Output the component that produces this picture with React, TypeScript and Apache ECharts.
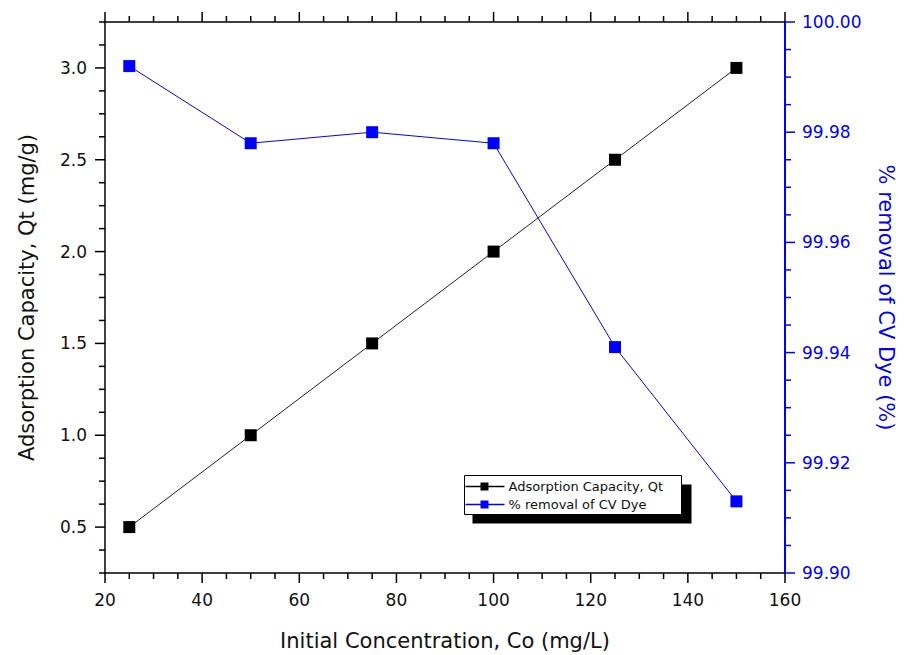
import React, { useEffect, useRef } from "react";
import * as echarts from "echarts";

const concentration = [25, 50, 75, 100, 125, 150];
const capacity = [0.5, 1.0, 1.5, 2.0, 2.5, 3.0];
const removal = [99.992, 99.978, 99.98, 99.978, 99.941, 99.913];
const xRange = [20, 160];
const leftRange = [0.25, 3.25];
const rightRange = [99.9, 100.0];
const xTickValues = [20, 40, 60, 80, 100, 120, 140, 160];
const leftTickValues = [0.5, 1.0, 1.5, 2.0, 2.5, 3.0];
const rightTickValues = [99.9, 99.92, 99.94, 99.96, 99.98, 100.0];
const xMinorStep = 5;
const leftMinorStep = 0.125;
const rightMinorStep = 0.005;
const seriesNames = ["Adsorption Capacity, Qt", "% removal of CV Dye"];
const xTitle = "Initial Concentration, Co (mg/L)";
const leftTitle = "Adsorption Capacity, Qt (mg/g)";
const rightTitle = "% removal of CV Dye (%)";

const FONT = "DejaVu Sans";
const BLUE = "#0000FF";
const BLACK = "#000000";
const MAJOR = 10;
const MINOR = 6;

function tickList(range: number[], step: number, majors: number[]) {
  const n = Math.round((range[1] - range[0]) / step);
  const out: number[][] = [];
  for (let i = 0; i <= n; i++) {
    const v = +(range[0] + i * step).toFixed(6);
    const isMajor = majors.some((m) => Math.abs(m - v) < step / 10);
    out.push([v, isMajor ? 1 : 0]);
  }
  return out;
}

export default function App() {
  const ref = useRef<HTMLDivElement>(null);
  useEffect(() => {
    document.body.style.margin = "0";
    const chart = echarts.init(ref.current!, null, { renderer: "svg" });
    const capData = concentration.map((x, i) => [x, capacity[i]]);
    const remData = concentration.map((x, i) => [x, removal[i]]);

    const xTicks = tickList(xRange, xMinorStep, xTickValues);
    const leftTicks = tickList(leftRange, leftMinorStep, leftTickValues);
    const rightTicks = tickList(rightRange, rightMinorStep, rightTickValues);

    const lineEl = (x1: number, y1: number, x2: number, y2: number, color: string) => ({
      type: "line",
      shape: { x1, y1, x2, y2 },
      style: { stroke: color, lineWidth: 1.5 },
    });

    const option: any = {
      animation: false,
      backgroundColor: "#ffffff",
      grid: { left: 105, right: 122, top: 22, bottom: 82, containLabel: false, outerBoundsMode: "none" },
      xAxis: [
        {
          type: "value",
          position: "bottom",
          min: xRange[0],
          max: xRange[1],
          interval: 20,
          splitLine: { show: false },
          axisLine: { show: true, onZero: false, lineStyle: { color: BLACK, width: 1.5 } },
          axisTick: { show: false },
          axisLabel: {
            show: true,
            margin: 18,
            color: "#111",
            fontSize: 17,
            fontFamily: FONT,
            formatter: (v: number) => String(v),
          },
          name: xTitle,
          nameLocation: "middle",
          nameGap: 57,
          nameMoveOverlap: false,
          nameTextStyle: { color: "#111", fontSize: 21, fontFamily: FONT },
        },
        {
          type: "value",
          position: "top",
          min: xRange[0],
          max: xRange[1],
          interval: 20,
          splitLine: { show: false },
          axisLine: { show: true, onZero: false, lineStyle: { color: BLACK, width: 1.5 } },
          axisTick: { show: false },
          axisLabel: { show: false },
        },
      ],
      yAxis: [
        {
          type: "value",
          position: "left",
          min: leftRange[0],
          max: leftRange[1],
          splitLine: { show: false },
          axisLine: { show: true, onZero: false, lineStyle: { color: BLACK, width: 1.5 } },
          axisTick: { show: false },
          axisLabel: {
            show: true,
            customValues: leftTickValues,
            margin: 18,
            color: "#111",
            fontSize: 17,
            fontFamily: FONT,
            formatter: (v: number) => v.toFixed(1),
          },
          name: leftTitle,
          nameLocation: "middle",
          nameGap: 68,
          nameMoveOverlap: false,
          nameTextStyle: { color: "#111", fontSize: 21, fontFamily: FONT },
        },
        {
          type: "value",
          position: "right",
          min: rightRange[0],
          max: rightRange[1],
          splitLine: { show: false },
          axisLine: { show: true, onZero: false, lineStyle: { color: BLUE, width: 2 } },
          axisTick: { show: false },
          axisLabel: {
            show: true,
            customValues: rightTickValues,
            margin: 17,
            color: BLUE,
            fontSize: 17,
            fontFamily: FONT,
            formatter: (v: number) => v.toFixed(2),
          },
          name: rightTitle,
          nameLocation: "middle",
          nameRotate: -90,
          nameGap: 90,
          nameMoveOverlap: false,
          nameTextStyle: { color: BLUE, fontSize: 21, fontFamily: FONT },
        },
      ],
      series: [
        {
          type: "custom",
          name: "xticks",
          xAxisIndex: 0,
          yAxisIndex: 0,
          silent: true,
          clip: false,
          z: 5,
          data: xTicks,
          renderItem: (_p: any, api: any) => {
            const v = api.value(0);
            const len = api.value(1) ? MAJOR : MINOR;
            const b = api.coord([v, leftRange[0]]);
            const t = api.coord([v, leftRange[1]]);
            return {
              type: "group",
              children: [lineEl(b[0], b[1], b[0], b[1] + len, BLACK), lineEl(t[0], t[1], t[0], t[1] - len, BLACK)],
            };
          },
        },
        {
          type: "custom",
          name: "lticks",
          xAxisIndex: 0,
          yAxisIndex: 0,
          silent: true,
          clip: false,
          z: 5,
          data: leftTicks,
          encode: { x: 1, y: 0 },
          renderItem: (_p: any, api: any) => {
            const v = api.value(0);
            const len = api.value(1) ? MAJOR : MINOR;
            const p = api.coord([xRange[0], v]);
            return lineEl(p[0] - len, p[1], p[0], p[1], BLACK);
          },
        },
        {
          type: "custom",
          name: "rticks",
          xAxisIndex: 0,
          yAxisIndex: 1,
          silent: true,
          clip: false,
          z: 5,
          data: rightTicks,
          encode: { x: 1, y: 0 },
          renderItem: (_p: any, api: any) => {
            const v = api.value(0);
            const len = api.value(1) ? MAJOR : MINOR;
            const p = api.coord([xRange[1], v]);
            return lineEl(p[0], p[1], p[0] + len, p[1], BLUE);
          },
        },
        {
          name: seriesNames[0],
          type: "line",
          xAxisIndex: 0,
          yAxisIndex: 0,
          data: capData,
          symbol: "rect",
          symbolSize: 12,
          showSymbol: true,
          itemStyle: { color: BLACK },
          lineStyle: { color: "#222", width: 1 },
          z: 3,
        },
        {
          name: seriesNames[1],
          type: "line",
          xAxisIndex: 0,
          yAxisIndex: 1,
          data: remData,
          symbol: "rect",
          symbolSize: 12,
          showSymbol: true,
          itemStyle: { color: BLUE },
          lineStyle: { color: BLUE, width: 1 },
          z: 3,
        },
      ],
      graphic: [
        {
          type: "group",
          left: 463,
          top: 475,
          z: 100,
          children: [
            { type: "rect", shape: { x: 8, y: 9, width: 219, height: 39 }, style: { fill: "#000" } },
            {
              type: "rect",
              shape: { x: 0, y: 0, width: 217, height: 39 },
              style: { fill: "#fff", stroke: "#000", lineWidth: 1 },
            },
            { type: "line", shape: { x1: 1, y1: 11, x2: 40, y2: 11 }, style: { stroke: BLACK, lineWidth: 1.5 } },
            { type: "rect", shape: { x: 16, y: 7, width: 8, height: 8 }, style: { fill: BLACK } },
            {
              type: "text",
              style: { x: 44, y: 11, text: seriesNames[0], fontSize: 13, fontFamily: FONT, fill: "#111", verticalAlign: "middle" },
            },
            { type: "line", shape: { x1: 1, y1: 29, x2: 40, y2: 29 }, style: { stroke: BLUE, lineWidth: 1.5 } },
            { type: "rect", shape: { x: 16, y: 25, width: 8, height: 8 }, style: { fill: BLUE } },
            {
              type: "text",
              style: { x: 44, y: 29, text: seriesNames[1], fontSize: 13, fontFamily: FONT, fill: "#111", verticalAlign: "middle" },
            },
          ],
        },
      ],
    };
    chart.setOption(option);
    return () => chart.dispose();
  }, []);
  return <div ref={ref} style={{ width: 907, height: 655 }} />;
}
